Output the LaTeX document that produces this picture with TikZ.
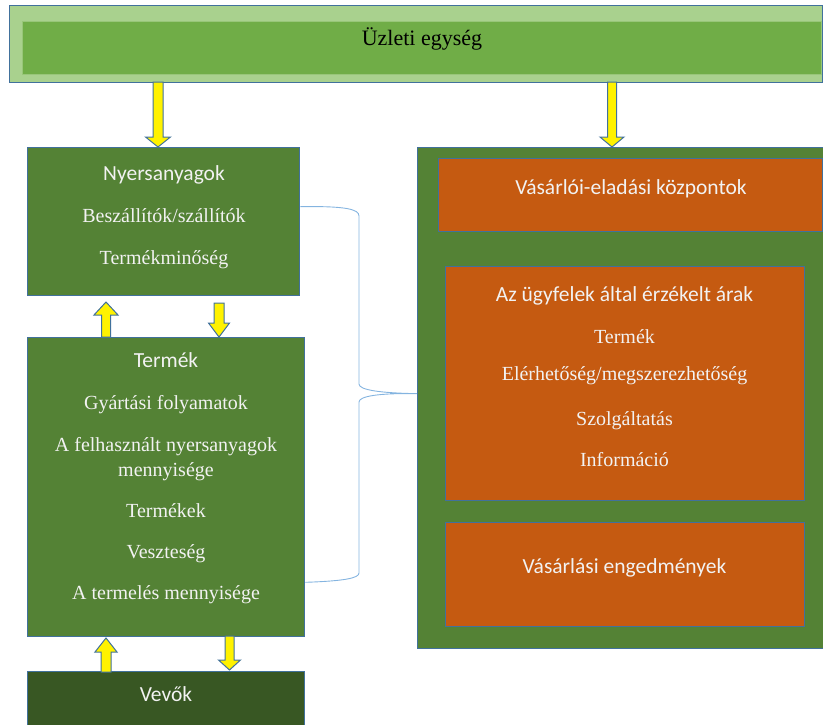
\documentclass[tikz,border=0pt]{standalone}
\usepackage{fontspec}
\setmainfont{Liberation Serif}
\newfontfamily\calib{Carlito}
\usetikzlibrary{calc}

\definecolor{barlight}{HTML}{A9D18E}
\definecolor{barmid}{HTML}{70AD47}
\definecolor{boxgreen}{HTML}{548235}
\definecolor{boxdark}{HTML}{385723}
\definecolor{boxorange}{HTML}{C55A11}
\definecolor{edge}{HTML}{41719C}
\definecolor{bracec}{HTML}{5B9BD5}

% vertical block arrow: x, tail y, tip y, shaft half width, head half width, head length
\newcommand\varrow[6]{%
  \pgfmathsetmacro\hb{#3 + (#3>#2 ? -#6 : #6)}%
  \filldraw[barrow] ({#1-#4},#2) -- ({#1-#4},\hb) -- ({#1-#5},\hb) -- (#1,#3)
    -- ({#1+#5},\hb) -- ({#1+#4},\hb) -- ({#1+#4},#2) -- cycle;}

\tikzset{
  box/.style={draw=edge, line width=1.3pt, rectangle, inner sep=0pt, anchor=north west},
  sanslbl/.style={font=\calib\fontsize{21.5}{25}\selectfont, text=white!95!black, anchor=base},
  seriflbl/.style={font=\fontsize{20}{24}\selectfont, text=white!95!black, anchor=base},
  barrow/.style={fill=yellow, draw=edge, line width=1pt, line join=miter},
  bracel/.style={draw=bracec, line width=0.9pt, opacity=0.75},
}

\begin{document}
\begin{tikzpicture}[x=1pt, y=-1pt]
\useasboundingbox (0,0) rectangle (823,724);
\clip (0,0) rectangle (823,724);

% top bar
\node[box, fill=barlight, minimum width=813pt, minimum height=77pt] (bar) at (9,5) {};
\node[rectangle, inner sep=0pt, anchor=north west, fill=barmid, draw=barlight!70!barmid,
      line width=0.6pt, minimum width=799pt, minimum height=53pt] (barin) at (22,21) {};
\node[font=\fontsize{22}{26}\selectfont, anchor=base, text=black] (title) at (422,45) {Üzleti egység};

% left column
\node[box, fill=boxgreen, minimum width=272pt, minimum height=148pt] (nya) at (27,147) {};
\node[box, fill=boxgreen, minimum width=277pt, minimum height=299pt] (ter) at (27,337) {};
\node[box, fill=boxdark, minimum width=277pt, minimum height=90pt] (vev) at (27,671) {};

\node[sanslbl] (nyaT) at (164,180) {Nyersanyagok};
\node[seriflbl] (nya1) at (164,222) {Beszállítók/szállítók};
\node[seriflbl] (nya2) at (164,264) {Termékminőség};

\node[sanslbl] (terT) at (166,367) {Termék};
\node[seriflbl] (ter1) at (166,409) {Gyártási folyamatok};
\node[seriflbl] (ter2) at (166,451) {A felhasznált nyersanyagok};
\node[seriflbl] (ter3) at (166,476) {mennyisége};
\node[seriflbl] (ter4) at (166,517) {Termékek};
\node[seriflbl] (ter5) at (166,558) {Veszteség};
\node[seriflbl] (ter6) at (166,599) {A termelés mennyisége};

\node[sanslbl] (vevT) at (166,701) {Vevők};

% right column
\node[box, fill=boxgreen, minimum width=440pt, minimum height=501pt] (right) at (417,147) {};
\node[box, fill=boxorange, minimum width=384pt, minimum height=73pt] (o1) at (438,158) {};
\node[box, fill=boxorange, minimum width=359pt, minimum height=234pt] (o2) at (445,266) {};
\node[box, fill=boxorange, minimum width=359pt, minimum height=104pt] (o3) at (445,522) {};

\node[sanslbl] (o1T) at (631,194) {Vásárlói-eladási központok};
\node[sanslbl] (o2T) at (624.5,301) {Az ügyfelek által érzékelt árak};
\node[seriflbl] (o21) at (624.5,343) {Termék};
\node[seriflbl] (o22) at (624.5,380) {Elérhetőség/megszerezhetőség};
\node[seriflbl] (o23) at (624.5,425) {Szolgáltatás};
\node[seriflbl] (o24) at (624.5,466) {Információ};
\node[sanslbl] (o3T) at (624.5,573) {Vásárlási engedmények};

% brace joining the two left boxes to the right block
\coordinate (bt) at ($(nya.east)+(0,-15)$);
\coordinate (bb) at ($(ter.south east)+(0,-55)$);
\coordinate (tip) at ($(right.west)+(0,-4.5)$);
\draw[bracel] (bt) .. controls (345,206) and (359,209) .. (359,216)
  -- (359,384) .. controls (359,390) and (380,393) .. (tip)
  .. controls (380,393) and (359,396) .. (359,402)
  -- (359,573) .. controls (359,578) and (345,581) .. (bb);

% block arrows
\varrow{158}{82}{147}{5}{12.5}{10}
\varrow{612}{82}{147}{4.5}{12}{10}
\varrow{106}{337}{302}{4.5}{12}{13}
\varrow{219}{303}{337}{5}{10.5}{14}
\varrow{106}{672}{638}{5}{11}{14}
\varrow{229.5}{636}{670}{4.5}{11}{10}
\end{tikzpicture}
\end{document}
